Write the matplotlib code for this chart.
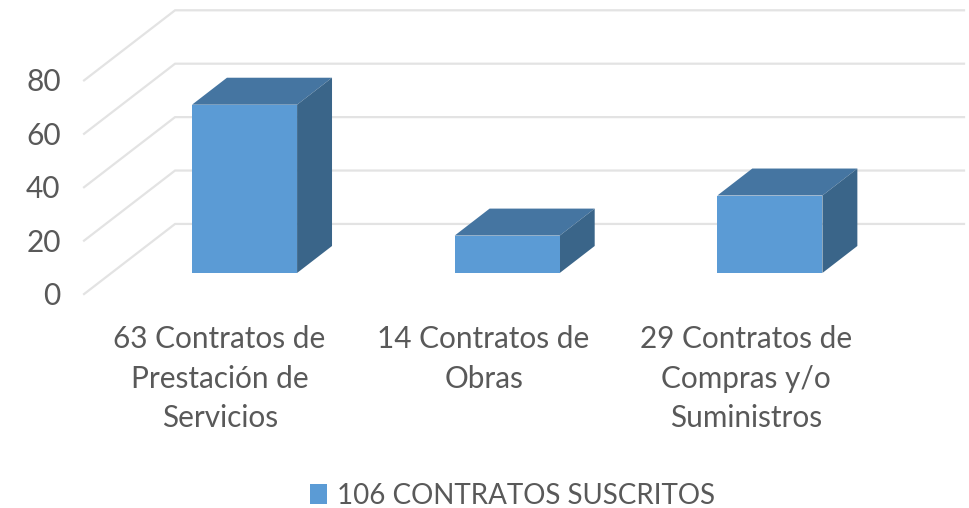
import matplotlib
matplotlib.use("Agg")
import matplotlib.pyplot as plt

categorias = ["63 Contratos de\nPrestación de\nServicios", "14 Contratos de\nObras", "29 Contratos de\nCompras y/o\nSuministros"]
valores = [63, 14, 29]
ticks_y = [0, 20, 40, 60, 80]
serie = "106 CONTRATOS SUSCRITOS"

color_frente = "#5B9BD5"
color_arriba = "#4575A1"
color_lado = "#3A6589"
color_grid = "#E3E3E3"
color_texto = "#595959"

plt.rcParams['font.family'] = ['Lato', 'DejaVu Sans']

# profundidad de las barras y de la pared del fondo, en unidades de los ejes
ancho = 0.40
prof_x = 0.133
prof_y = 10.1
pared_x0 = -0.611
pared_x1 = -0.2646
pared_y0 = -7.9
pared_y1 = 18.35
fin_grid = 2.739

fig = plt.figure(figsize=(9.69, 5.08), dpi=100)
ax = fig.add_axes([0, 0, 1, 1])
ax.set_xlim(-0.931, 2.758)
ax.set_ylim(-88, 102.2)
ax.axis("off")

# rejilla: pared lateral y pared del fondo
for t in ticks_y:
	ax.plot([pared_x0, pared_x1, fin_grid], [pared_y0 + t, pared_y1 + t, pared_y1 + t], color=color_grid, lw=1.6, solid_joinstyle="miter", zorder=1)
	ax.text(-0.70, t - 8.6, str(t), ha="right", va="center", fontsize=21.5, color=color_texto)

# barras
barras = ax.bar(range(len(valores)), valores, width=ancho, color=color_frente, label=serie, zorder=3)
for i, v in enumerate(valores):
	izq = i - ancho / 2
	der = i + ancho / 2
	ax.fill([izq, der, der + prof_x, izq + prof_x], [v, v, v + prof_y, v + prof_y], color=color_arriba, lw=0, zorder=2)
	ax.fill([der, der + prof_x, der + prof_x, der], [0, prof_y, v + prof_y, v], color=color_lado, lw=0, zorder=2)
	ax.text(i - 0.095 if i == 0 else i - 0.09, -19.6, categorias[i], ha="center", va="top", fontsize=21.4, color=color_texto, linespacing=1.49)

ax.legend(handles=[barras], loc="center", bbox_to_anchor=(0.529, 0.0245), frameon=False, fontsize=20, labelcolor=color_texto, handlelength=0.62, handleheight=0.72, handletextpad=0.35, borderpad=0, borderaxespad=0)

fig.savefig("out.png", dpi=100)
